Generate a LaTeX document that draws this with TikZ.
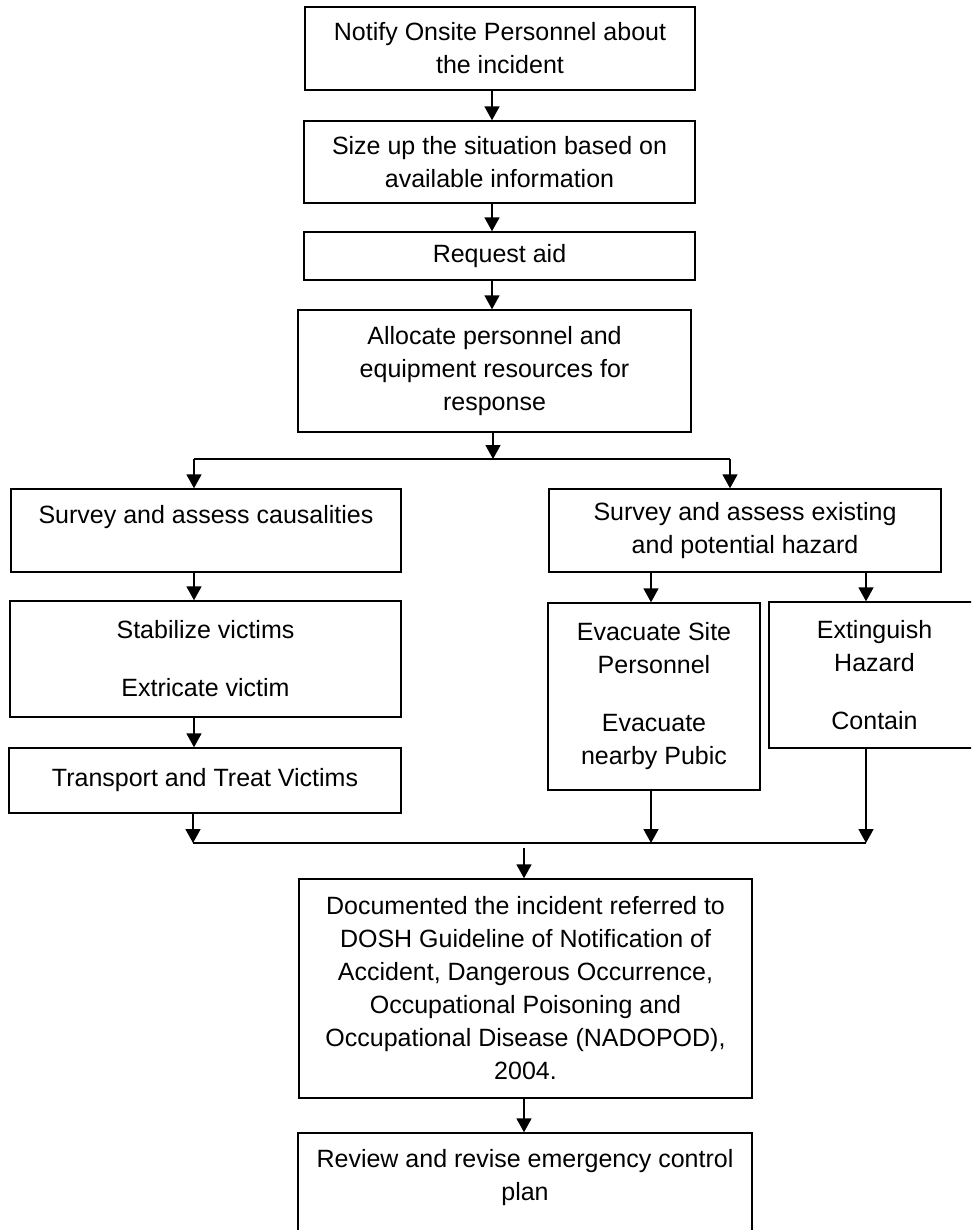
\documentclass[tikz,border=0pt]{standalone}
\usepackage{fontspec}
\setmainfont{Liberation Sans}
\usetikzlibrary{arrows.meta}
\begin{document}
\begin{tikzpicture}[x=1pt,y=-1pt,
  box/.style={draw,line width=1.4pt,rectangle,inner sep=0pt,align=center,
    font=\fontsize{25}{33}\selectfont},
  link/.style={line width=1.6pt},
  arr/.style={line width=1.7pt,-{Triangle[width=15pt,length=14pt]}}]
\clip (0,0) rectangle (971,1230);
\fill[white] (0,0) rectangle (971,1230);
% boxes
\node[box,minimum width=390pt,minimum height=83pt] (b1) at (500,48.5) {Notify Onsite Personnel about\\the incident};
\node[box,minimum width=391pt,minimum height=82pt] (b2) at (499.5,162) {Size up the situation based on\\available information};
\node[box,minimum width=391pt,minimum height=48pt] (b3) at (499.5,256) {Request aid};
\node[box,minimum width=393pt,minimum height=122pt] (b4) at (494.5,371) {Allocate personnel and\\equipment resources for\\response};
\node[box,minimum width=390pt,minimum height=83pt] (L1) at (206,530.5) {Survey and assess causalities\\\mbox{}};
\node[box,minimum width=391pt,minimum height=116pt] (L2) at (205.5,659) {Stabilize victims\\[25pt]Extricate victim};
\node[box,minimum width=392pt,minimum height=65pt] (L3) at (205,780.5) {Transport and Treat Victims};
\node[box,minimum width=392pt,minimum height=83pt] (R1) at (745,530.5) {Survey and assess existing\\and potential hazard};
\node[box,minimum width=212pt,minimum height=187pt] (R2) at (654,696.5) {Evacuate Site\\Personnel\\[25pt]Evacuate\\nearby Pubic};
\node[box,minimum width=211pt,minimum height=146pt] (R3) at (874.5,675) {Extinguish\\Hazard\\[25pt]Contain};
\node[box,minimum width=453pt,minimum height=219pt] (D) at (525.5,988.5) {Documented the incident referred to\\DOSH Guideline of Notification of\\Accident, Dangerous Occurrence,\\Occupational Poisoning and\\Occupational Disease (NADOPOD),\\2004.};
\node[box,minimum width=454pt,minimum height=117pt] (E) at (525,1191.5) {Review and revise emergency control\\plan\\\mbox{}};
% helper coordinates
\coordinate (ax) at (492,0);
\coordinate (ay) at (493,0);
\coordinate (tL) at (194,459);
\coordinate (tR) at (730,459);
\coordinate (rx1) at (651,0);
\coordinate (rx2) at (866,0);
\coordinate (mL) at (193,843);
\coordinate (mR) at (866,843);
\coordinate (mD) at (524,848);
% connectors
\draw[arr] (b1.south -| ax) -- (b2.north -| ax);
\draw[arr] (b2.south -| ax) -- (b3.north -| ax);
\draw[arr] (b3.south -| ax) -- (b4.north -| ax);
\draw[link] (tL) -- (tR);
\draw[arr] (b4.south -| ay) -- (ay |- tL);
\draw[arr] (tL) -- (L1.north -| tL);
\draw[arr] (tR) -- (R1.north -| tR);
\draw[arr] (L1.south -| tL) -- (L2.north -| tL);
\draw[arr] (L2.south -| tL) -- (L3.north -| tL);
\draw[arr] (R1.south -| rx1) -- (R2.north -| rx1);
\draw[arr] (R1.south -| rx2) -- (R3.north -| rx2);
\draw[link] (mL) -- (mR);
\draw[arr] (L3.south -| mL) -- (mL);
\draw[arr] (R2.south -| rx1) -- (rx1 |- mL);
\draw[arr] (R3.south -| mR) -- (mR);
\draw[arr] (mD) -- (D.north -| mD);
\draw[arr] (D.south -| mD) -- (E.north -| mD);
\end{tikzpicture}
\end{document}
